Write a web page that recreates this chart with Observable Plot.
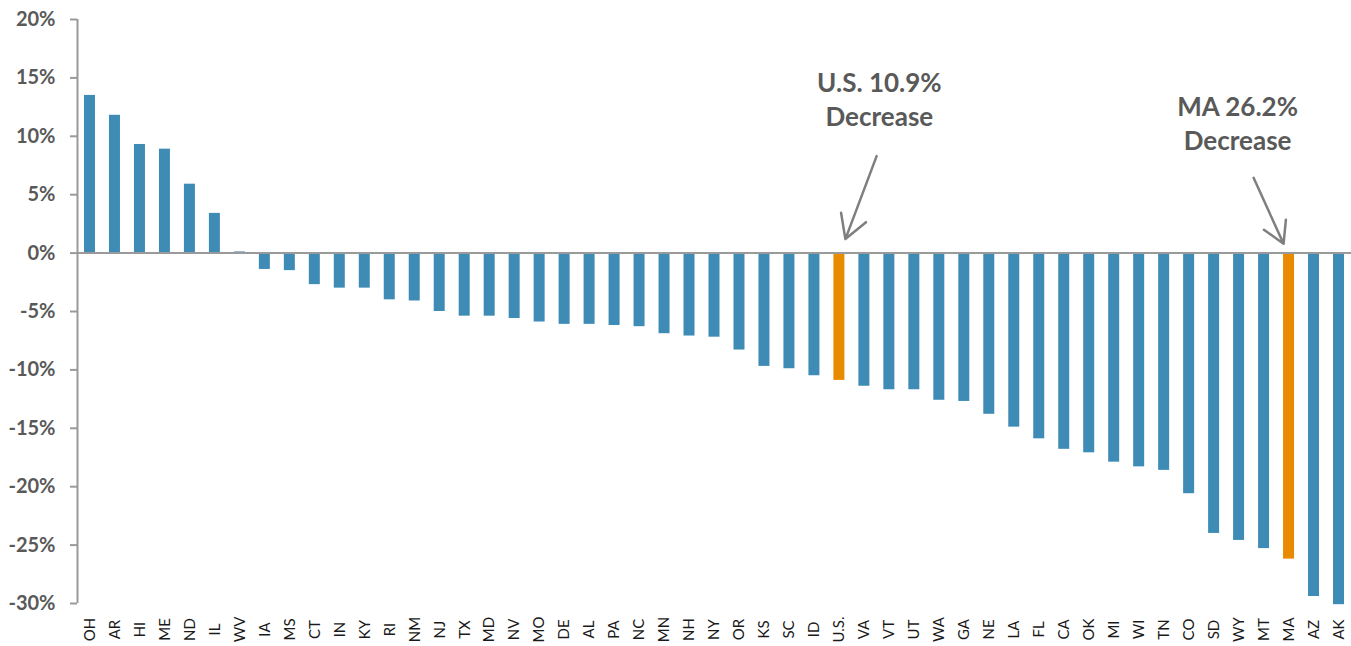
<!DOCTYPE html>
<html>
<head>
<meta charset="utf-8">
<script src="https://cdn.jsdelivr.net/npm/d3@7"></script>
<script src="https://cdn.jsdelivr.net/npm/@observablehq/plot@0.6"></script>
<style>
  html, body { margin: 0; padding: 0; background: #fff; }
  svg { display: block; }
</style>
</head>
<body>
<div id="chart"></div>
<script>
const states = ["OH","AR","HI","ME","ND","IL","WV","IA","MS","CT","IN","KY","RI","NM","NJ","TX","MD","NV","MO","DE","AL","PA","NC","MN","NH","NY","OR","KS","SC","ID","U.S.","VA","VT","UT","WA","GA","NE","LA","FL","CA","OK","MI","WI","TN","CO","SD","WY","MT","MA","AZ","AK"];
const values = [13.5,11.8,9.3,8.9,5.9,3.4,0.1,-1.4,-1.5,-2.7,-3.0,-3.0,-4.0,-4.1,-5.0,-5.4,-5.4,-5.6,-5.9,-6.1,-6.1,-6.2,-6.3,-6.9,-7.1,-7.2,-8.3,-9.7,-9.9,-10.5,-10.9,-11.4,-11.7,-11.7,-12.6,-12.7,-13.8,-14.9,-15.9,-16.8,-17.1,-17.9,-18.3,-18.6,-20.6,-24.0,-24.6,-25.3,-26.2,-29.4,-30.1];
const highlighted = ["U.S.", "MA"];
const yTicks = [-30,-25,-20,-15,-10,-5,0,5,10,15,20];

// annotation labels and arrows (in data units: x = category index, y = percent)
const labels = [
  {x: 31.6, y: 13.3, text: "U.S. 10.9%\nDecrease"},
  {x: 45.94, y: 11.2, text: "MA 26.2%\nDecrease"}
];
const arrows = [
  {x1: 31.49, y1: 8.3, x2: 30.24, y2: 1.2},
  {x1: 46.58, y1: 6.45, x2: 47.78, y2: 0.8}
];

const data = states.map((s, i) => ({state: s, value: values[i], i}));
const idx = states.map((s, i) => i);
const BLUE = "#3E8BB5", ORANGE = "#E98B00", GREY = "#9a9a9a", TEXT = "#595959";

const chart = Plot.plot({
  width: 1351,
  height: 646,
  marginLeft: 77,
  marginRight: 0,
  marginTop: 19,
  marginBottom: 43,
  style: {fontFamily: "Lato, 'Open Sans', sans-serif", background: "#fff"},
  x: {type: "linear", domain: [-0.5, states.length - 0.5], axis: null},
  y: {domain: [-30, 20], axis: null},
  marks: [
    Plot.rectY(data, {
      x1: d => d.i - 0.22,
      x2: d => d.i + 0.22,
      y: "value",
      fill: d => highlighted.includes(d.state) ? ORANGE : BLUE
    }),
    Plot.ruleY([0], {stroke: GREY, strokeWidth: 2}),
    Plot.ruleX([-0.5], {y1: -30, y2: 20, stroke: GREY, strokeWidth: 2}),
    Plot.axisY(yTicks, {
      tickSize: 7,
      tickPadding: 15,
      stroke: GREY,
      strokeWidth: 2,
      tickFormat: d => d + "%",
      fontSize: 20,
      fontWeight: "bold",
      fill: TEXT
    }),
    Plot.axisX(idx, {
      tickSize: 0,
      tickPadding: 26,
      tickRotate: -90,
      textAnchor: "middle",
      lineAnchor: "middle",
      tickFormat: i => states[i],
      fontSize: 15,
      fill: "#1a1a1a"
    }),
    Plot.text(labels, {
      x: "x", y: "y", text: "text",
      fontSize: 26, fontWeight: "bold", fill: TEXT,
      lineHeight: 1.32, lineAnchor: "middle", textAnchor: "middle"
    }),
    Plot.arrow(arrows, {
      x1: "x1", y1: "y1", x2: "x2", y2: "y2",
      stroke: "#7f7f7f", strokeWidth: 2.5, headLength: 16
    })
  ]
});
document.getElementById("chart").appendChild(chart);
</script>
</body>
</html>
